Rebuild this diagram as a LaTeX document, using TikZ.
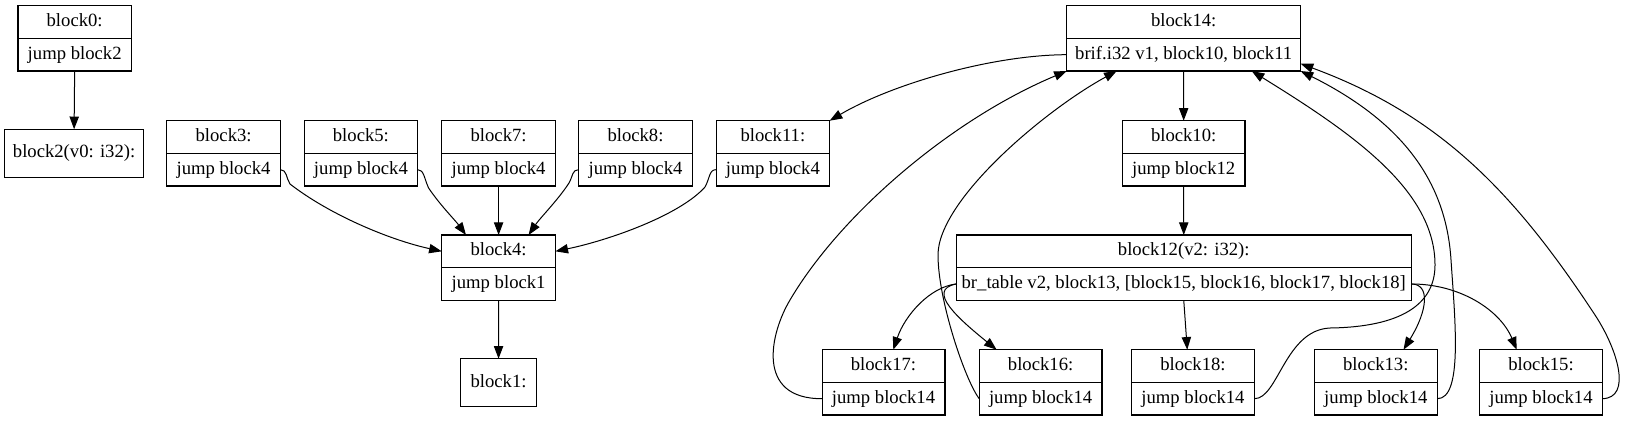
\documentclass[tikz,border=0pt]{standalone}
\usepackage{fontspec}
\setmainfont{Liberation Serif}
\usetikzlibrary{arrows.meta,calc}
\newcommand\mkrec[6]{%
  \node[fld, minimum width=#4*0.75pt, anchor=north] (#1t) at (#2,#3) {#5};
  \node[fld, minimum width=#4*0.75pt, anchor=north] (#1b) at (#1t.south) {#6};
}
\begin{document}
\begin{tikzpicture}[x=0.75pt, y=-0.75pt,
  fld/.style={draw, line width=0.9pt, minimum height=24.49pt, inner sep=0pt, outer sep=0pt,
    text height=9.8pt, text depth=3pt, font=\fontsize{14}{16}\selectfont},
  edge/.style={line width=0.75pt, -{Triangle[length=9.5pt, width=7pt]}}]
\path[use as bounding box] (0,0) rectangle (1626,421);
% left part
\mkrec{b0}{74.65}{5.7}{113.5}{block0:}{jump block2}
\node[fld, minimum width=139*0.75pt, minimum height=36pt] (b2) at (74.1,153.2) {block2(v0: i32):};
\mkrec{b3}{223.6}{120.7}{113.6}{block3:}{jump block4}
\mkrec{b5}{360.9}{120.7}{113.6}{block5:}{jump block4}
\mkrec{b7}{498.6}{120.7}{113.6}{block7:}{jump block4}
\mkrec{b8}{635.5}{120.7}{113.6}{block8:}{jump block4}
\mkrec{b11}{772.9}{120.7}{113.6}{block11:}{jump block4}
\mkrec{b4}{498.6}{235}{113.6}{block4:}{jump block1}
\node[fld, minimum width=75.7*0.75pt, minimum height=36pt] (b1) at (498.55,382.7) {block1:};
% right part
\mkrec{b14}{1183.7}{5.7}{233.8}{block14:}{brif.i32 v1, block10, block11}
\mkrec{b10}{1183.65}{120.7}{122.5}{block10:}{jump block12}
\mkrec{b12}{1183.75}{235}{455.3}{block12(v2: i32):}{br\_table v2, block13, [block15, block16, block17, block18]}
\mkrec{b17}{883.5}{349.7}{122.8}{block17:}{jump block14}
\mkrec{b16}{1040.6}{349.7}{122.8}{block16:}{jump block14}
\mkrec{b18}{1192.95}{349.7}{122.8}{block18:}{jump block14}
\mkrec{b13}{1375.8}{349.7}{122.8}{block13:}{jump block14}
\mkrec{b15}{1541}{349.7}{122.8}{block15:}{jump block14}
% edges left
\draw[edge] (b0b.south) -- (b2.north);
\draw[edge] (b3b.east) .. controls (287,169.7) and (286,178) .. (290,184) .. controls (330,215) and (390,240) .. (b4t.west);
\draw[edge] (b5b.east) .. controls (424,169.7) and (424,178) .. (428.6,188) .. controls (440,205) and (455,220) .. ($(b4t.north west)+(24.2,0)$);
\draw[edge] (b7b.south) -- (b4t.north);
\draw[edge] (b8b.west) .. controls (572,169.7) and (573,176) .. (569,183) .. controls (558,200) and (540,218) .. ($(b4t.north east)+(-26.8,0)$);
\draw[edge] (b11b.west) .. controls (709,169.7) and (710,178) .. (705,187) .. controls (680,215) and (610,240) .. (b4t.east);
\draw[edge] (b4b.south) -- (b1.north);
% edges right
\draw[edge] (b14b.west) .. controls (990,55) and (890,85) .. (b11t.north east);
\draw[edge] (b14b.south) -- (b10t.north);
\draw[edge] (b10b.south) -- (b12t.north);
\draw[edge] (b12b.west) .. controls (930,287) and (905,315) .. ($(b17t.north west)+(71.2,0)$);
\draw[edge] (b12b.west) .. controls (925,290) and (960,320) .. ($(b16t.north west)+(17.4,0)$);
\draw[edge] (b12b.south) -- ($(b18t.north west)+(55.7,0)$);
\draw[edge] (b12b.east) .. controls (1430,284) and (1428,310) .. ($(b13t.north west)+(89.1,0)$);
\draw[edge] (b12b.east) .. controls (1460,284) and (1500,310) .. ($(b15t.north west)+(37.1,0)$);
\draw[edge] (b17b.west) .. controls (755,399) and (770.2,333) .. (790,300) .. controls (840,215) and (950,120) .. (b14b.south west);
\draw[edge] (b16b.west) .. controls (965,380) and (938,300) .. (938,255) .. controls (938,200) and (1045,110) .. ($(b14b.south west)+(49.9,0)$);
\draw[edge] (b18b.east) .. controls (1278,399) and (1285,330) .. (1330,328) .. controls (1400,327) and (1435,305) .. (1435,265) .. controls (1435,190) and (1352,133) .. ($(b14b.south west)+(184.9,0)$);
\draw[edge] (b13b.east) .. controls (1463,399) and (1455,320) .. (1451,260) .. controls (1446,180) and (1400.6,121) .. (b14b.south east);
\draw[edge] (b15b.east) .. controls (1632,398) and (1618,350) .. (1595,315) .. controls (1514.5,192.5) and (1440,115) .. ($(b14b.east)+(0,9)$);
\end{tikzpicture}
\end{document}
